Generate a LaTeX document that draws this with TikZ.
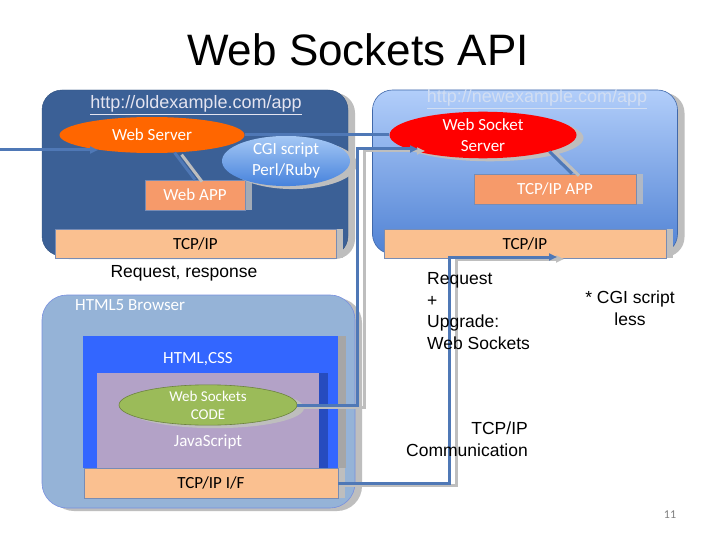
\documentclass[tikz,border=0pt]{standalone}
\usepackage{fontspec}
\setmainfont{Liberation Sans}
\newfontfamily\calib{Carlito}
\usetikzlibrary{shapes.geometric,shadows,arrows.meta,calc}
\definecolor{darkbox}{RGB}{59,96,150}
\definecolor{rtop}{RGB}{178,206,250}
\definecolor{rbot}{RGB}{80,130,212}
\definecolor{cgitop}{RGB}{165,200,245}
\definecolor{cgibot}{RGB}{70,130,220}
\definecolor{browserc}{RGB}{149,179,215}
\definecolor{htmlc}{RGB}{51,102,255}
\definecolor{jsc}{RGB}{179,162,199}
\definecolor{greenc}{RGB}{155,187,89}
\definecolor{peach}{RGB}{250,192,144}
\definecolor{salmon}{RGB}{246,154,106}
\definecolor{orangec}{RGB}{255,102,0}
\definecolor{redc}{RGB}{255,0,0}
\definecolor{connc}{RGB}{79,120,182}
\definecolor{shadc}{RGB}{190,190,190}
\definecolor{edgec}{RGB}{120,140,180}
\definecolor{urlold}{RGB}{228,228,240}
\definecolor{urlnew}{RGB}{210,222,242}
\begin{document}
\begin{tikzpicture}[x=1pt,y=-1pt,
  shad/.style={drop shadow={shadow xshift=7pt,shadow yshift=-3pt,fill=shadc,opacity=1}},
  bigbox/.style={rounded corners=20pt,inner sep=0pt,shad},
  bar/.style={rectangle,inner sep=0pt,fill=peach,draw=edgec,line width=0.6pt,
    drop shadow={shadow xshift=7pt,shadow yshift=0pt,fill=shadc,opacity=1},
    font=\calib\fontsize{17}{21}\selectfont,text=black},
  appbox/.style={rectangle,inner sep=0pt,fill=salmon,draw=edgec,line width=0.6pt,
    drop shadow={shadow xshift=7pt,shadow yshift=0pt,fill=shadc,opacity=0.8},
    font=\calib\fontsize{17}{21}\selectfont,text=white},
  oval/.style={ellipse,inner sep=0pt,align=center,text=white,
    font=\calib\fontsize{17}{21}\selectfont},
  conn/.style={draw=connc,line width=3pt},
  sconn/.style={conn,preaction={draw=shadc,line width=3pt,transform canvas={shift={(7pt,-2pt)}}}},
  tip/.style={-{Triangle[length=8pt,width=7pt]}},
  lbl/.style={font=\fontsize{17.5}{21.5}\selectfont,text=black,inner sep=0pt}]
\useasboundingbox (0,0) rectangle (720,540);
\fill[white] (0,0) rectangle (720,540);

% title
\node[font=\fontsize{44}{50}\selectfont] (title) at (358,50) {Web Sockets API};

% old server box
\node[bigbox,fill=darkbox,draw=darkbox!85!black,minimum width=306pt,minimum height=166pt] (oldsrv) at (195,173) {};
\node[font=\fontsize{18}{21}\selectfont,text=urlold,inner sep=0pt] (oldurl) at (196,105) {\underline{http://oldexample.com/app}};
\node[appbox,minimum width=100pt,minimum height=30pt] (webapp) at (195,195) {Web APP};
\node[oval,fill=orangec,minimum width=185pt,minimum height=36pt] (webserver) at (152,135) {Web Server};
\node[oval,top color=cgitop,bottom color=cgibot,shad,minimum width=128pt,minimum height=40pt] (cgi) at (286,161) {CGI script\\Perl/Ruby};
\node[bar,minimum width=281pt,minimum height=29pt] (tcpL) at (195.5,243.5) {TCP/IP};

% new server box
\node[bigbox,top color=rtop,bottom color=rbot,draw=rbot!80!black,line width=0.6pt,minimum width=305pt,minimum height=164pt] (newsrv) at (525,172) {};
\node[font=\fontsize{18}{21}\selectfont,text=urlnew,inner sep=0pt] (newurl) at (537,99) {\underline{http://newexample.com/app}};
\node[appbox,minimum width=162pt,minimum height=30pt] (tcpapp) at (555,189) {TCP/IP APP};
\node[oval,fill=redc,shad,minimum width=187pt,minimum height=42pt] (wss) at (483,135) {Web Socket\\Server};
\node[bar,minimum width=282pt,minimum height=29pt] (tcpR) at (525,243.5) {TCP/IP};

% browser
\node[bigbox,rounded corners=25pt,fill=browserc,draw=browserc!80!blue,line width=0.6pt,minimum width=313pt,minimum height=213pt] (browser) at (198.5,401.5) {};
\node[anchor=west,text=white,font=\calib\fontsize{17}{21}\selectfont,inner sep=0pt] (brlabel) at (75,305) {HTML5 Browser};
\node[rectangle,inner sep=0pt,fill=htmlc,minimum width=255pt,minimum height=132pt,
  drop shadow={shadow xshift=8pt,shadow yshift=0pt,fill=black!35,opacity=1}] (htmlbox) at (210.5,402) {};
\node[text=white,font=\calib\fontsize{17}{21}\selectfont,inner sep=0pt] (htmllabel) at (198,359) {HTML,CSS};
\node[rectangle,inner sep=0pt,fill=jsc,minimum width=222pt,minimum height=95pt,
  drop shadow={shadow xshift=9pt,shadow yshift=0pt,fill=black,opacity=0.25}] (jsbox) at (208,420.5) {};
\node[text=white,font=\calib\fontsize{17}{21}\selectfont,inner sep=0pt] (jslabel) at (208,442) {JavaScript};
\node[oval,fill=greenc,draw=greenc!70!black,line width=0.6pt,shad,minimum width=178pt,minimum height=39pt,
  font=\calib\fontsize{15}{18}\selectfont] (wscode) at (208,405) {Web Sockets\\CODE};
\node[bar,minimum width=254pt,minimum height=30pt] (tcpif) at (211,483) {TCP/IP I/F};

% coordinates for connector ends
\coordinate (lin) at (0,150);
\coordinate (wsin) at (98,150);
\coordinate (c1) at (357,149);
\coordinate (wssin) at (418,149);
\coordinate (c2) at (449,257);
\coordinate (tcpin) at (557,257);

% connectors
\draw[sconn] (webserver.-38) -- (webapp.north);
\draw[sconn] (wss.-14) -- ($(tcpapp.north)+(17,0)$);
\draw[conn,tip] (lin) -- (wsin);
\draw[conn] (webserver.east) -- (wss.west);
\draw[sconn,tip] (wscode.east) -| (c1) -- (wssin);
\draw[sconn,tip] (tcpif.east) -| (c2) -- (tcpin);

% labels
\node[lbl] (reqresp) at (184,273) {Request, response};
\node[lbl,anchor=west,align=left] (upg) at (427,311) {Request\\+\\Upgrade:\\Web Sockets};
\node[lbl,align=center] (cgiless) at (630,308) {* CGI script\\less};
\node[lbl,anchor=east,align=right] (tcpcomm) at (528,439) {TCP/IP\\Communication};
\node[font=\calib\fontsize{12}{14}\selectfont,text=black!50,inner sep=0pt] (pageno) at (670,515) {11};
\end{tikzpicture}
\end{document}
